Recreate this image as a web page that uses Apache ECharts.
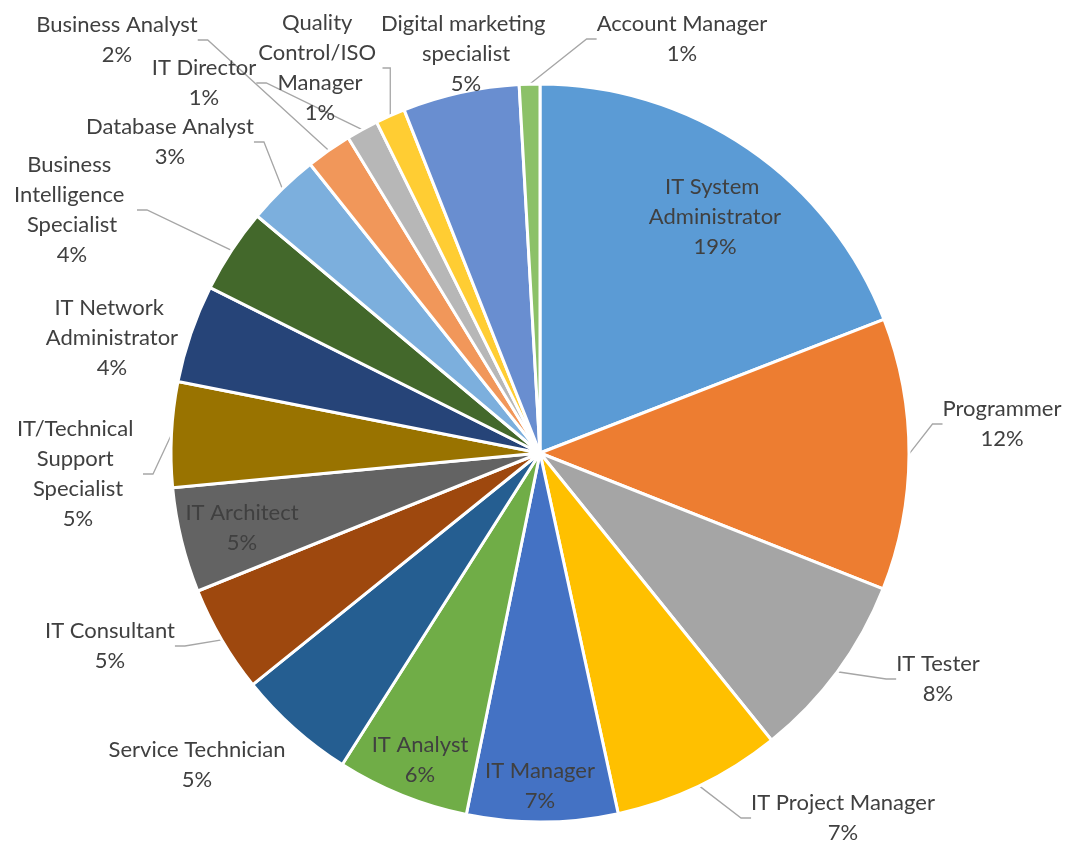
<!DOCTYPE html>
<html>
<head>
<meta charset="utf-8">
<script src="https://cdn.jsdelivr.net/npm/echarts@6/dist/echarts.min.js"></script>
<style>
    html, body { margin: 0; padding: 0; background: #fff; }
    #chart-roles { width: 1066px; height: 842px; }
</style>
</head>
<body>
<div id="chart-roles"></div>
<script>
// Job roles share (pie)
var roles = ['IT System Administrator', 'Programmer', 'IT Tester', 'IT Project Manager', 'IT Manager',
    'IT Analyst', 'Service Technician', 'IT Consultant', 'IT Architect', 'IT/Technical Support Specialist',
    'IT Network Administrator', 'Business Intelligence Specialist', 'Database Analyst', 'Business Analyst',
    'IT Director', 'Quality Control/ISO Manager', 'Digital marketing specialist', 'Account Manager'];
var shares = [19.1, 11.9, 8.2, 7.4, 6.6, 5.8, 5.2, 4.7, 4.6, 4.6, 4.3, 3.7, 3.2, 2.0, 1.4, 1.3, 5.1, 0.9];
var colors = ['#5B9BD5', '#ED7D31', '#A5A5A5', '#FFC000', '#4472C4', '#70AD47', '#255E91', '#9E480E', '#636363',
    '#997300', '#264478', '#43682B', '#7CAFDD', '#F1975A', '#B7B7B7', '#FFCD33', '#698ED0', '#8CC168'];

// where each label block sits (center), like the excel "best fit" labels
var labelPos = {
    'IT System Administrator': [715, 217],
    'Programmer': [1002, 424],
    'IT Tester': [938, 679],
    'IT Project Manager': [843, 818],
    'IT Manager': [540, 786],
    'IT Analyst': [420, 760],
    'Service Technician': [197, 765],
    'IT Consultant': [110, 646],
    'IT Architect': [242, 528],
    'IT/Technical Support Specialist': [78, 474],
    'IT Network Administrator': [112, 338],
    'Business Intelligence Specialist': [72, 210],
    'Database Analyst': [170, 142],
    'Business Analyst': [117, 40],
    'IT Director': [204, 83],
    'Quality Control/ISO Manager': [320, 68],
    'Digital marketing specialist': [466, 54],
    'Account Manager': [682, 39]
};
// wrap width for the long names
var labelWrap = {
    'IT System Administrator': 150,
    'IT/Technical Support Specialist': 130,
    'IT Network Administrator': 145,
    'Business Intelligence Specialist': 130,
    'Quality Control/ISO Manager': 125,
    'Digital marketing specialist': 180
};
var insideLabels = ['IT System Administrator', 'IT Manager', 'IT Analyst', 'IT Architect'];
var noLeader = ['Service Technician', 'IT Network Administrator', 'Digital marketing specialist'];

var pieData = roles.map(function (name, i) {
    var label = {};
    if (labelWrap[name]) {
        label.width = labelWrap[name];
        label.overflow = 'break';
    }
    if (insideLabels.indexOf(name) >= 0) {
        label.position = 'inside';
    }
    var item = {
        name: name,
        value: shares[i],
        itemStyle: { color: colors[i] },
        label: label
    };
    if (noLeader.indexOf(name) >= 0) {
        item.labelLine = { show: false };
    }
    return item;
});

var chart_roles = echarts.init(document.getElementById('chart-roles'));

var option_roles = {
    animation: false,
    series: [
        {
            name: 'Roles',
            type: 'pie',
            // wide box so the outside labels never get squeezed; center is relative to it
            left: -500,
            top: 0,
            width: 2066,
            height: 842,
            center: [1040, 453],
            radius: 369,
            startAngle: 90,
            clockwise: true,
            avoidLabelOverlap: false,
            itemStyle: {
                borderColor: '#ffffff',
                borderWidth: 3
            },
            label: {
                show: true,
                position: 'outside',
                color: '#404040',
                fontFamily: 'Lato',
                fontSize: 22,
                lineHeight: 30,
                formatter: function (params) {
                    return params.name + '\n' + Math.round(params.percent) + '%';
                }
            },
            labelLine: {
                show: true,
                length: 10,
                length2: 10,
                lineStyle: {
                    color: '#A6A6A6',
                    width: 1.3
                }
            },
            labelLayout: function (params) {
                var p = labelPos[roles[params.dataIndex]];
                return {
                    x: p[0],
                    y: p[1],
                    align: 'center',
                    verticalAlign: 'middle'
                };
            },
            emphasis: { disabled: true },
            data: pieData
        }
    ]
};

chart_roles.setOption(option_roles);
</script>
</body>
</html>
